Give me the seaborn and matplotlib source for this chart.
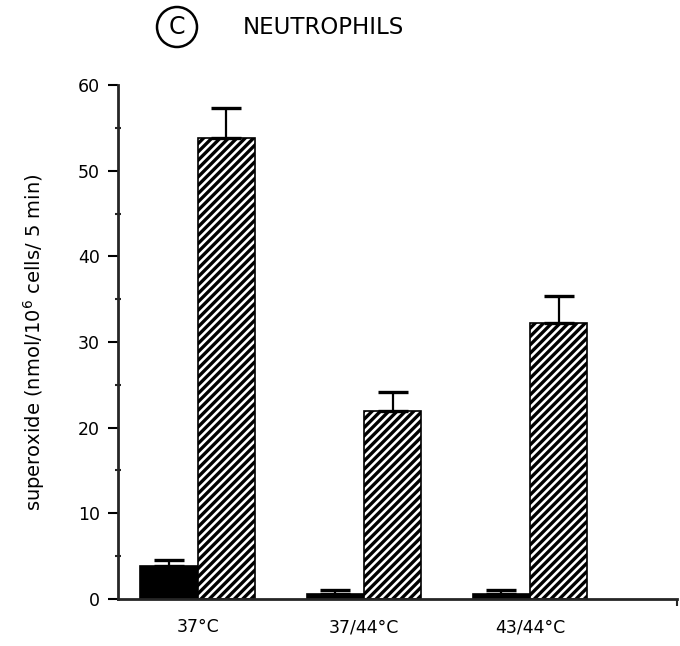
import matplotlib
matplotlib.use("Agg")
import matplotlib.pyplot as plt
import numpy as np
import pandas as pd
import seaborn as sns
from matplotlib.patches import Circle

conditions = ["37°C", "37/44°C", "43/44°C"]
treatments = ["control", "stimulated"]
control_means = [3.8, 0.6, 0.6]
control_err = [0.8, 0.4, 0.4]
stim_means = [53.8, 22.0, 32.2]
stim_err = [3.5, 2.2, 3.2]

df = pd.DataFrame({
    "condition": conditions * 2,
    "treatment": [treatments[0]] * 3 + [treatments[1]] * 3,
    "value": control_means + stim_means,
    "err": control_err + stim_err,
})

sns.set_style("ticks")
plt.rcParams["font.family"] = ["DejaVu Sans"]
plt.rcParams["text.color"] = "black"
plt.rcParams["axes.labelcolor"] = "black"
plt.rcParams["hatch.linewidth"] = 2.4

fig = plt.figure(figsize=(6.8, 6.46), dpi=100)
ax = fig.add_axes([0.1735, 0.0728, 0.8221, 0.7956])

sns.barplot(
    data=df, x="condition", y="value", hue="treatment",
    order=conditions, hue_order=treatments,
    palette=["black", "white"], width=0.69, errorbar=None,
    edgecolor="black", linewidth=1.2, legend=False, ax=ax,
)

# hatch the stimulated bars, add upward-only error bars
for i, (container, errs) in enumerate(zip(ax.containers, [control_err, stim_err])):
    for bar, e in zip(container, errs):
        if i == 1:
            bar.set_hatch("////")
        x = bar.get_x() + bar.get_width() / 2
        ax.errorbar(x, bar.get_height(), yerr=[[0], [e]], fmt="none",
                    ecolor="black", elinewidth=1.6, capsize=11, capthick=2.4,
                    zorder=1)

ax.set_ylim(0, 60)
ax.set_xlim(-0.48, 2.885)
ax.set_yticks(np.arange(0, 61, 10))
ax.set_yticks(np.arange(5, 60, 10), minor=True)
ax.set_xticks([2.885], minor=True)
ax.tick_params(axis="y", which="major", length=7, width=1.5, labelsize=12.5,
               direction="out", pad=6, colors="black")
ax.tick_params(axis="y", which="minor", length=4, width=1.5, direction="inout")
ax.tick_params(axis="x", which="major", length=0, labelsize=12.5, pad=14,
               colors="black")
ax.tick_params(axis="x", which="minor", length=5, width=1.5, direction="out")
ax.set_xlabel("")
ax.set_ylabel("superoxide (nmol/10$^6$ cells/ 5 min)", fontsize=14, labelpad=22)
for side in ["top", "right"]:
    ax.spines[side].set_visible(False)
for side in ["left", "bottom"]:
    ax.spines[side].set_linewidth(2)

fig.patches.append(Circle((177, 646 - 27), 20, transform=None, fill=False,
                          edgecolor="black", linewidth=1.8))
fig.text(177 / 680, 1 - 27 / 646, "C", ha="center", va="center", fontsize=17)
fig.text(243 / 680, 1 - 27 / 646, "NEUTROPHILS", ha="left", va="center",
         fontsize=16.5)

fig.savefig("out.png", dpi=100)
